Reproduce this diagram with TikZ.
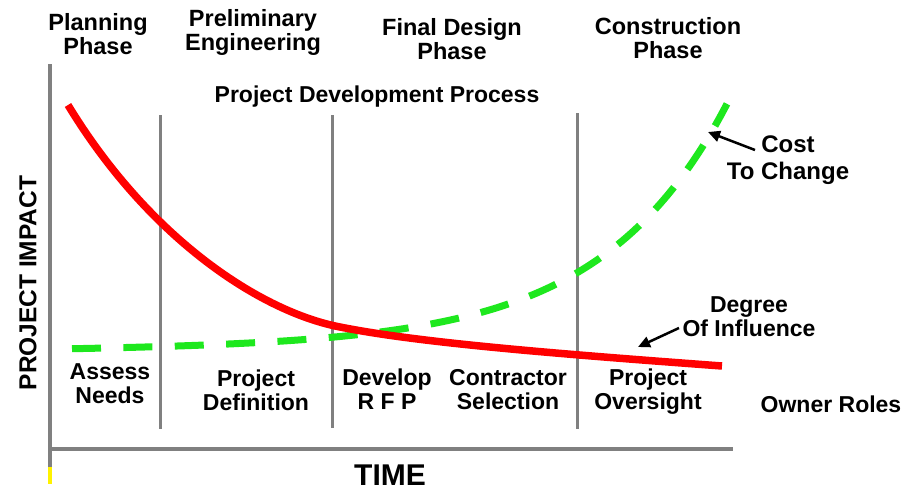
\documentclass[tikz,border=0pt]{standalone}
\usepackage{fontspec}
\setmainfont{Liberation Sans}
\usetikzlibrary{arrows.meta}
\definecolor{curvered}{RGB}{255,0,0}
\definecolor{curvegreen}{RGB}{30,232,30}
\definecolor{axisgray}{RGB}{128,128,128}
\begin{document}
\begin{tikzpicture}[x=1pt,y=-1pt,
  lbl/.style={font=\fontsize{23}{24}\selectfont\bfseries, align=center, inner sep=0pt},
  toplbl/.style={font=\fontsize{23.5}{24}\selectfont\bfseries, align=center, inner sep=0pt},
  axisline/.style={draw=axisgray, line width=4pt},
  divider/.style={draw=axisgray, line width=3pt},
  redcurve/.style={draw=curvered, line width=7.5pt, line cap=butt},
  greencurve/.style={draw=curvegreen, line width=7pt, line cap=butt, dash pattern=on 29pt off 22.4pt},
  pointer/.style={draw=black, line width=2.5pt, -{Triangle[length=12pt,width=11pt]}}]
\useasboundingbox (0,0) rectangle (906,490);
% axes
\coordinate (ytop) at (50,64);
\coordinate (origin) at (50,449);
\coordinate (xend) at (733,449);
\coordinate (ylow) at (50,467);
\coordinate (yend) at (50,484);
\draw[axisline] (ytop) -- (ylow);
\draw[axisline] (origin) -- (xend);
\draw[draw=yellow, line width=4pt] (ylow) -- (yend);
% dividers
\coordinate (d1t) at (160,115); \coordinate (d1b) at (160,429);
\coordinate (d2t) at (332,115); \coordinate (d2b) at (332,428);
\coordinate (d3t) at (577,113); \coordinate (d3b) at (577,429);
\draw[divider] (d1t) -- (d1b);
\draw[divider] (d2t) -- (d2b);
\draw[divider] (d3t) -- (d3b);
% curves
\draw[greencurve] plot[domain=72:727, samples=90, smooth] (\x, {350 - 0.01*(\x-72) - 1.27*exp((\x-72)/125)});
\coordinate (rs) at (68,105);
\coordinate (rm) at (340,327);
\coordinate (re) at (722,366);
\draw[redcurve] (rs) .. controls (150,240) and (262,312) .. (rm) .. controls (420,343) and (560,354) .. (re);
% top labels
\node[toplbl] (plan) at (98,34) {Planning\\Phase};
\node[toplbl] (prelim) at (253,32) {Preliminary\\Engineering};
\node[toplbl] (final) at (452,39) {Final Design\\Phase};
\node[toplbl] (constr) at (668,38) {Construction\\Phase};
\node[lbl] (pdp) at (377,97) {Project Development Process};
% bottom labels
\node[lbl] (assess) at (110,384) {Assess\\Needs};
\node[lbl] (pdef) at (256,390) {Project\\Definition};
\node[lbl] (rfp) at (387,389) {Develop\\R F P};
\node[lbl] (contr) at (508,390) {Contractor\\Selection};
\node[lbl] (overs) at (648,392) {Project\\Oversight};
\node[lbl] (owner) at (831,404) {Owner Roles};
% axis titles
\node[lbl, font=\fontsize{24.5}{26}\selectfont\bfseries, rotate=90] (impact) at (28,283) {PROJECT IMPACT};
\node[font=\fontsize{30}{32}\selectfont\bfseries, inner sep=0pt] (time) at (390,475) {TIME};
% annotations
\node[lbl, font=\fontsize{24}{27}\selectfont\bfseries] (ctc) at (788,160) {Cost\\To Change};
\node[lbl] (doi) at (749,317) {Degree\\Of Influence};
\coordinate (ctctail) at (755,150);
\coordinate (ctctip) at (708,132);
\coordinate (doitail) at (679,328);
\coordinate (doitip) at (638,347);
\draw[pointer] (ctctail) -- (ctctip);
\draw[pointer] (doitail) -- (doitip);
\end{tikzpicture}
\end{document}
